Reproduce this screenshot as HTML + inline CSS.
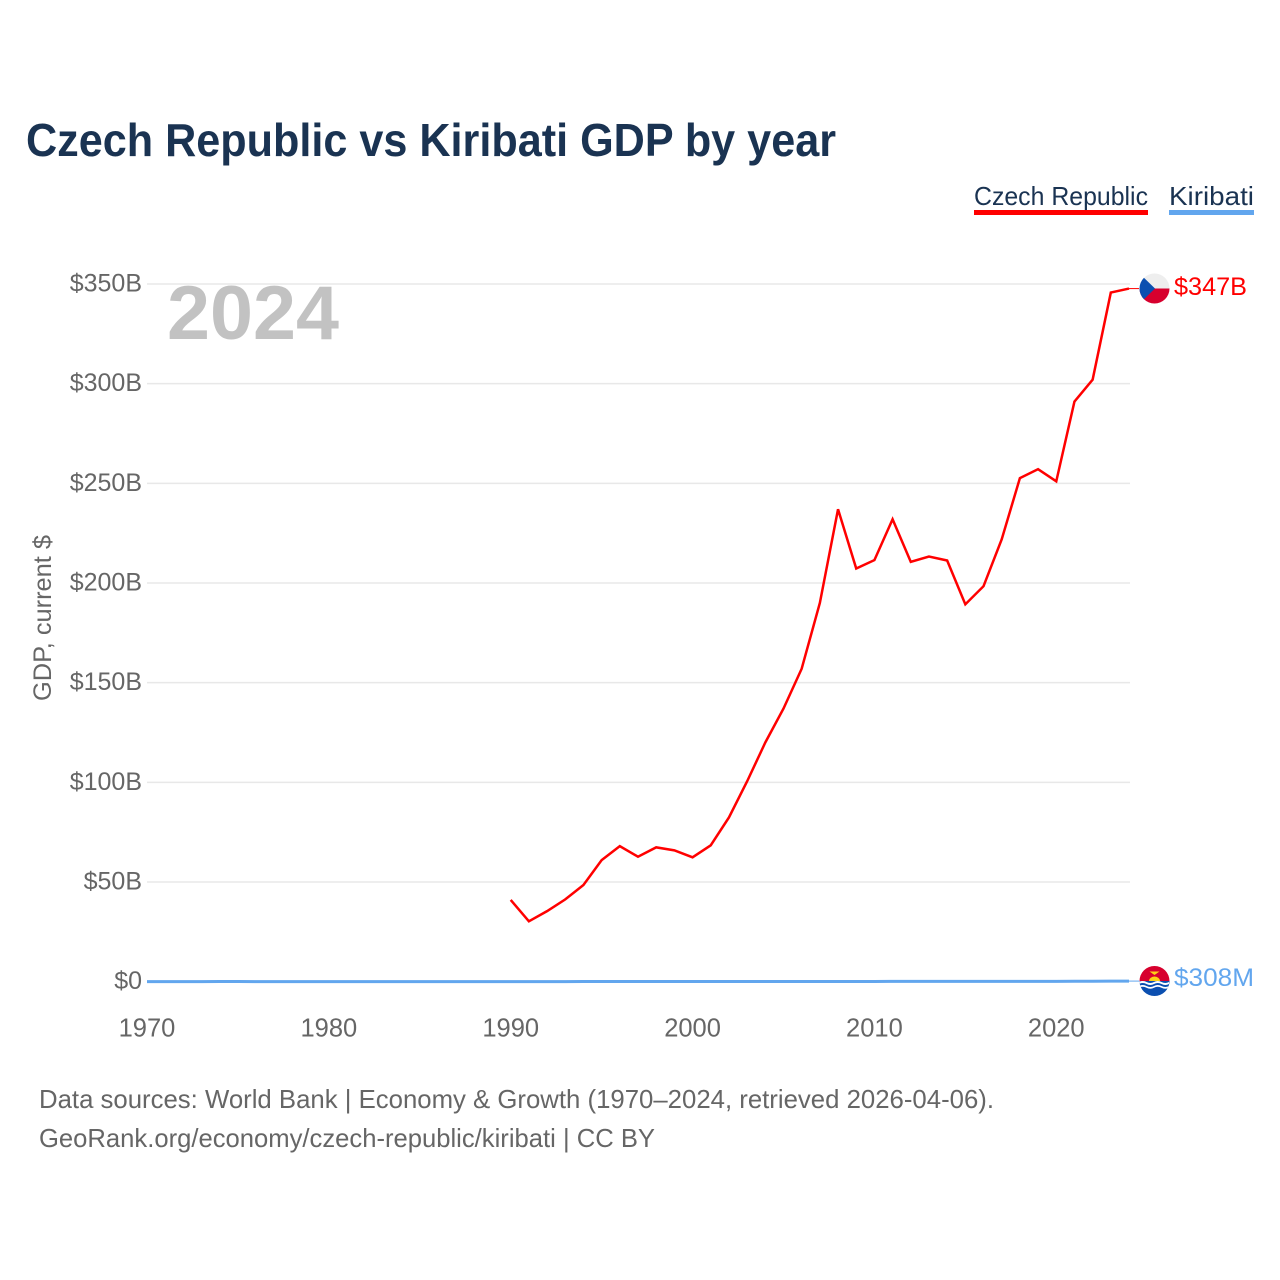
<!DOCTYPE html>
<html lang="en">
<head>
<meta charset="utf-8">
<title>Czech Republic vs Kiribati GDP by year</title>
<style>
html,body{margin:0;padding:0;background:#fff;}
svg{display:block;}
text{font-family:"Liberation Sans",sans-serif;}
</style>
</head>
<body>
<svg id="chart" width="1280" height="1280" viewBox="0 0 1280 1280" xmlns="http://www.w3.org/2000/svg">
  <defs>
    <clipPath id="clip-cz"><circle cx="1154.500" cy="288.500" r="15"/></clipPath>
    <clipPath id="clip-ki"><circle cx="1154.500" cy="981" r="15"/></clipPath>
  </defs>
  <rect width="1280" height="1280" fill="#ffffff"/>
  <text x="26" y="156" font-size="46" font-weight="700" fill="#1a3352" textLength="810" lengthAdjust="spacingAndGlyphs">Czech Republic vs Kiribati GDP by year</text>

  <g>
    <text x="974" y="205" font-size="26" fill="#1a3352" textLength="174" lengthAdjust="spacingAndGlyphs">Czech Republic</text>
    <rect x="974" y="210" width="174" height="5" fill="#ff0000"/>
  </g>
  <g>
    <text x="1169" y="205" font-size="26" fill="#1a3352" textLength="85" lengthAdjust="spacingAndGlyphs">Kiribati</text>
    <rect x="1169" y="210" width="85" height="5" fill="#62a6ee"/>
  </g>

  <g id="grid"></g>
  <g id="y-ticks"></g>
  <g id="x-ticks"></g>

  <text x="167" y="339" font-size="76" font-weight="700" fill="#c2c2c2" textLength="172" lengthAdjust="spacingAndGlyphs">2024</text>
  <text transform="translate(51,701) rotate(-90)" font-size="25" fill="#666666" textLength="166" lengthAdjust="spacingAndGlyphs">GDP, current $</text>

  <g id="series"></g>

  <g clip-path="url(#clip-cz)">
    <rect x="1139" y="273" width="31" height="16" fill="#eeeeee"/>
    <rect x="1139" y="288.500" width="31" height="16" fill="#d7002e"/>
    <polygon points="1139,273 1155,288.500 1139,304" fill="#0b4fb0"/>
  </g>
  <g clip-path="url(#clip-ki)">
    <rect x="1139" y="965" width="31" height="17" fill="#d7002e"/>
    <path d="M1149 981a5.500 4.500 0 0 1 11 0z" fill="#fcd116"/>
    <path d="M1149.500 971.500h10l-5 3.500z" fill="#fcd116"/>
    <rect x="1139" y="981" width="31" height="16" fill="#0b4fb0"/>
    <path d="M1139 982q3.700-2 7.500 0t7.500 0 7.500 0 7.500 0v2q-3.700 2-7.500 0t-7.500 0-7.500 0-7.500 0z" fill="#ffffff"/>
    <path d="M1139 986q3.700-2 7.500 0t7.500 0 7.500 0 7.500 0v1.800q-3.700 2-7.500 0t-7.500 0-7.500 0-7.500 0z" fill="#ffffff"/>
  </g>

  <text id="end-label-cz" x="1174" y="295" font-size="25" fill="#ff0000" textLength="73" lengthAdjust="spacingAndGlyphs"></text>
  <text id="end-label-ki" x="1174" y="986" font-size="25" fill="#62a6ee" textLength="80" lengthAdjust="spacingAndGlyphs"></text>

  <text x="39" y="1108" font-size="26" fill="#666666" textLength="955" lengthAdjust="spacingAndGlyphs">Data sources: World Bank | Economy &amp; Growth (1970–2024, retrieved 2026-04-06).</text>
  <text x="39" y="1147" font-size="26" fill="#666666" textLength="616" lengthAdjust="spacingAndGlyphs">GeoRank.org/economy/czech-republic/kiribati | CC BY</text>
</svg>
<script>
var czechYears = [1990,1991,1992,1993,1994,1995,1996,1997,1998,1999,2000,2001,2002,2003,2004,2005,2006,2007,2008,2009,2010,2011,2012,2013,2014,2015,2016,2017,2018,2019,2020,2021,2022,2023,2024];
var czechValues = [41,30.3,35.4,41.3,48.5,61,68,62.7,67.4,65.9,62.4,68.4,82.4,100.5,120,137,157,190,237,207.3,211.5,232,210.6,213.3,211.3,189.3,198.4,221.9,252.6,257.1,251,291,302,345.7,347.7];
var kiribatiYears = [1970,1971,1972,1973,1974,1975,1976,1977,1978,1979,1980,1981,1982,1983,1984,1985,1986,1987,1988,1989,1990,1991,1992,1993,1994,1995,1996,1997,1998,1999,2000,2001,2002,2003,2004,2005,2006,2007,2008,2009,2010,2011,2012,2013,2014,2015,2016,2017,2018,2019,2020,2021,2022,2023,2024];
var kiribatiValues = [0.014,0.016,0.019,0.05,0.1,0.09,0.04,0.04,0.04,0.04,0.04,0.04,0.04,0.04,0.04,0.03,0.03,0.03,0.04,0.04,0.03,0.05,0.05,0.05,0.07,0.07,0.08,0.08,0.08,0.08,0.07,0.07,0.07,0.08,0.09,0.1,0.11,0.12,0.13,0.11,0.13,0.16,0.17,0.17,0.17,0.16,0.17,0.18,0.19,0.19,0.18,0.23,0.22,0.28,0.308];
var yTickValues = [0,50,100,150,200,250,300,350];
var yTickLabels = ["$0","$50B","$100B","$150B","$200B","$250B","$300B","$350B"];
var xTickValues = [1970,1980,1990,2000,2010,2020];
var xTickLabels = ["1970","1980","1990","2000","2010","2020"];
var czechEndLabel = "$347B";
var kiribatiEndLabel = "$308M";

function xScale(year) { return 147 + (year - 1970) * (1129 - 147) / 54; }
function yScale(v) { return 981.7 - v * (981.7 - 284) / 350; }
var NS = 'http://www.w3.org/2000/svg';
function make(tag, parent, attrs) {
  var el = document.createElementNS(NS, tag);
  for (var k in attrs) el.setAttribute(k, attrs[k]);
  parent.appendChild(el);
  return el;
}
var gridG = document.getElementById('grid');
var yG = document.getElementById('y-ticks');
var xG = document.getElementById('x-ticks');
var seriesG = document.getElementById('series');

yTickValues.forEach(function (v, i) {
  if (v !== 0) {
    var line = make('line', gridG, {x1: 147, x2: 1130, y1: yScale(v), y2: yScale(v), stroke: '#e8e8e8', 'stroke-width': 1.5});
    
    
  }
  var t = make('text', yG, {x: 142, y: yScale(v) + 7.5, 'text-anchor': 'end', 'font-size': 25, fill: '#666666'});
  
  
  t.textContent = yTickLabels[i];
});

xTickValues.forEach(function (v, i) {
  var t = make('text', xG, {x: xScale(v), y: 1036.5, 'text-anchor': 'middle', 'font-size': 25.5, fill: '#666666'});
  
  
  t.textContent = xTickLabels[i];
});

function pathFor(years, values) {
  return years.map(function (y, i) {
    return (i ? 'L' : 'M') + xScale(y).toFixed(2) + ' ' + yScale(values[i]).toFixed(2);
  }).join('');
}

var czLine = make('path', seriesG, {d: pathFor(czechYears, czechValues), fill: 'none', stroke: '#ff0000', 'stroke-width': 2.5, 'stroke-linejoin': 'miter'});



var kiLine = make('path', seriesG, {d: pathFor(kiribatiYears, kiribatiValues), fill: 'none', stroke: '#62a6ee', 'stroke-width': 3});



var czLast = czechValues[czechValues.length - 1];
var czLeader = make('line', seriesG, {x1: xScale(2024), y1: yScale(czLast), x2: 1139, y2: yScale(czLast), stroke: '#ff0000', 'stroke-width': 1});



var kiLast = kiribatiValues[kiribatiValues.length - 1];
var kiLeader = make('line', seriesG, {x1: xScale(2024), y1: yScale(kiLast), x2: 1139, y2: yScale(kiLast), stroke: '#62a6ee', 'stroke-width': 1});



document.getElementById('end-label-cz').textContent = czechEndLabel;
document.getElementById('end-label-ki').textContent = kiribatiEndLabel;
</script>
</body>
</html>
